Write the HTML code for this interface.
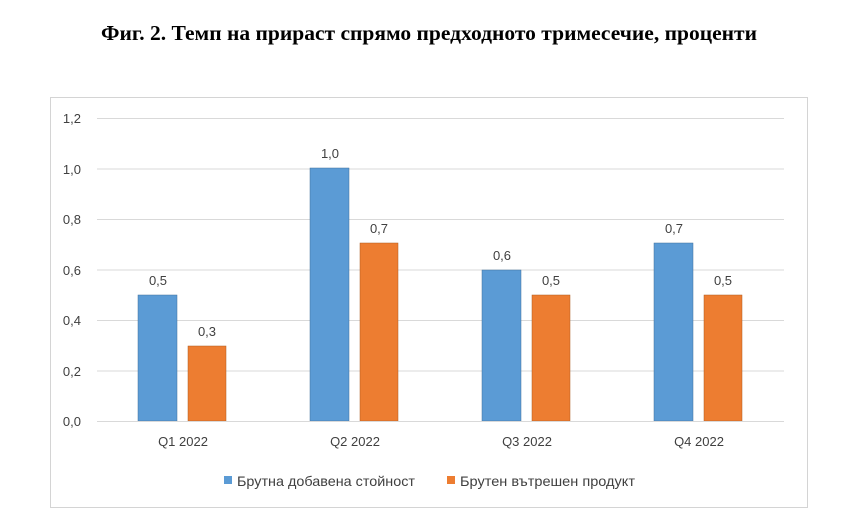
<!DOCTYPE html>
<html><head><meta charset="utf-8"><style>
body{margin:0;background:#fff;width:863px;height:511px;overflow:hidden}
</style></head><body>
<svg width="863" height="511" xmlns="http://www.w3.org/2000/svg" font-family="Liberation Sans, DejaVu Sans, sans-serif">
<text x="429" y="40" text-anchor="middle" font-family="Liberation Serif, serif" font-weight="bold" font-size="21.5" fill="#000" textLength="656" lengthAdjust="spacingAndGlyphs">Фиг. 2. Темп на прираст спрямо предходното тримесечие, проценти</text>
<rect x="50.5" y="97.5" width="757" height="410" fill="#fff" stroke="#d4d4d4"/>
<g stroke="#d9d9d9" stroke-width="1">
<line x1="97" x2="784" y1="118.5" y2="118.5"/>
<line x1="97" x2="784" y1="169" y2="169"/>
<line x1="97" x2="784" y1="219.5" y2="219.5"/>
<line x1="97" x2="784" y1="270" y2="270"/>
<line x1="97" x2="784" y1="320.5" y2="320.5"/>
<line x1="97" x2="784" y1="371" y2="371"/>
</g>
<g font-size="13" fill="#404040" text-anchor="end">
<text x="81" y="123">1,2</text><text x="81" y="174">1,0</text><text x="81" y="224">0,8</text>
<text x="81" y="275">0,6</text><text x="81" y="325">0,4</text><text x="81" y="376">0,2</text><text x="81" y="426">0,0</text>
</g>
<g fill="#5b9bd5" stroke="#41719c" stroke-width="0.5">
<rect x="138" y="295" width="39" height="126"/>
<rect x="310" y="168" width="39" height="253"/>
<rect x="482" y="270" width="39" height="151"/>
<rect x="654" y="243" width="39" height="178"/>
</g>
<g fill="#ed7d31" stroke="#ae5a21" stroke-width="0.5">
<rect x="188" y="346" width="38" height="75"/>
<rect x="360" y="243" width="38" height="178"/>
<rect x="532" y="295" width="38" height="126"/>
<rect x="704" y="295" width="38" height="126"/>
</g>
<line x1="97" x2="784" y1="421.5" y2="421.5" stroke="#d9d9d9"/>
<g font-size="13" fill="#404040" text-anchor="middle">
<text x="158" y="285">0,5</text><text x="207" y="336">0,3</text>
<text x="330" y="158">1,0</text><text x="379" y="233">0,7</text>
<text x="502" y="260">0,6</text><text x="551" y="285">0,5</text>
<text x="674" y="233">0,7</text><text x="723" y="285">0,5</text>
<text x="183" y="446">Q1 2022</text><text x="355" y="446">Q2 2022</text>
<text x="527" y="446">Q3 2022</text><text x="699" y="446">Q4 2022</text>
</g>
<rect x="224" y="476" width="8" height="8" fill="#5b9bd5"/>
<text x="237" y="486" font-size="14" fill="#404040" textLength="178" lengthAdjust="spacingAndGlyphs">Брутна добавена стойност</text>
<rect x="447" y="476" width="8" height="8" fill="#ed7d31"/>
<text x="460" y="486" font-size="14" fill="#404040" textLength="175" lengthAdjust="spacingAndGlyphs">Брутен вътрешен продукт</text>
</svg>
</body></html>
